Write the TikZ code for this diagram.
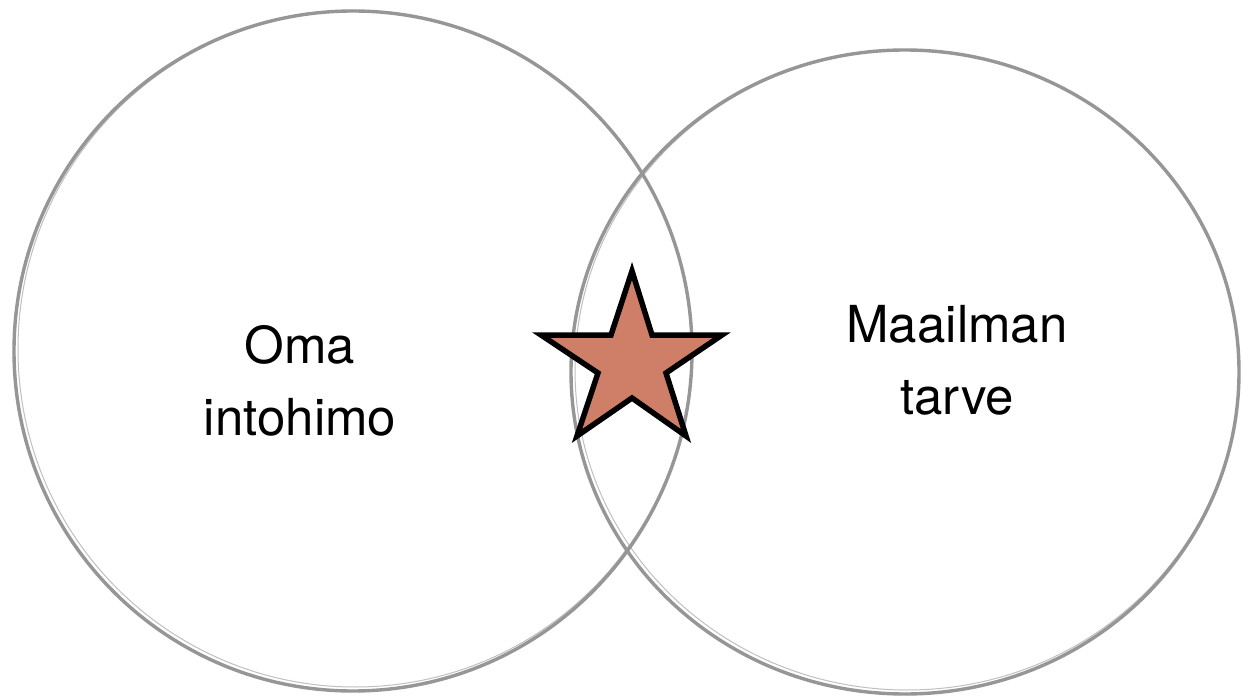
\documentclass[tikz,border=0pt]{standalone}
\usepackage{fontspec}
\setmainfont{TeX Gyre Heros}
\definecolor{ringgray}{RGB}{150,150,150}
\definecolor{starfill}{RGB}{207,127,104}
\tikzset{
  ring/.style={draw=ringgray, line width=3.4pt},
  ringsketch/.style={draw=ringgray, line width=1pt, opacity=0.6},
  label/.style={align=center, font=\fontsize{51}{72}\selectfont, inner sep=0pt},
  starshape/.style={draw=black, fill=starfill, line width=5.5pt, line join=miter, miter limit=10}
}
\begin{document}
\begin{tikzpicture}[x=1pt,y=-1pt]
\useasboundingbox (0,0) rectangle (1241,700);
\fill[white] (0,0) rectangle (1241,700);
% left circle
\draw[ring] (353,351) ellipse [x radius=339, y radius=340];
\draw[ringsketch] (355,349) ellipse [x radius=337, y radius=338];
% right circle
\draw[ring] (905,372) ellipse [x radius=334, y radius=322];
\draw[ringsketch] (907,370) ellipse [x radius=332, y radius=320];
% star
\draw[starshape] (632,271) -- (652,335) -- (722,335) -- (666,373) -- (686,436)
  -- (632,398) -- (577,436) -- (598,373) -- (541,335) -- (611,335) -- cycle;
% labels
\node[label] (passion) at (300,381) {Oma\\intohimo};
\node[label] (need) at (957,360) {Maailman\\tarve};
\end{tikzpicture}
\end{document}
